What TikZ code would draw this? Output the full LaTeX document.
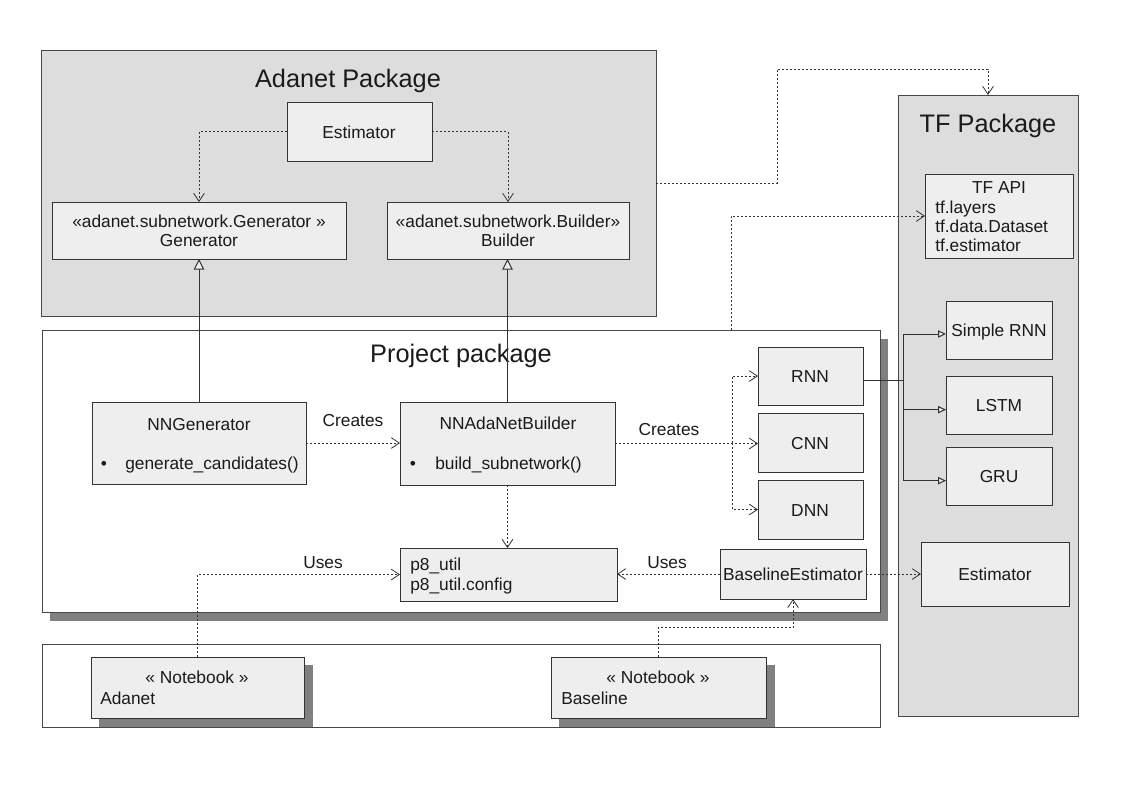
\documentclass[tikz,border=0pt]{standalone}
\usepackage{fontspec}
\setmainfont{Liberation Sans}
\usetikzlibrary{arrows.meta}
\definecolor{pkgfill}{HTML}{DDDDDD}
\definecolor{boxfill}{HTML}{EEEEEE}
\definecolor{shadowc}{HTML}{808080}
\definecolor{linec}{HTML}{333333}
\definecolor{txtc}{HTML}{1A1A1A}
\newcommand\ubox[6][]{%
  \node[#1, minimum width={(#5-#3)*0.75pt}, minimum height={(#6-#4)*0.75pt}] (#2) at ({(#3+#5)/2},{(#4+#6)/2}) {};}
\tikzset{
  pkg/.style={draw=linec!90, fill=pkgfill, line width=0.75pt, inner sep=0pt, outer sep=0pt},
  wpkg/.style={draw=linec!90, fill=white, line width=0.75pt, inner sep=0pt, outer sep=0pt},
  shad/.style={fill=shadowc, draw=none, inner sep=0pt, outer sep=0pt},
  cbox/.style={draw=linec, fill=boxfill, line width=0.75pt, inner sep=0pt, outer sep=0pt},
  txt/.style={inner sep=0pt, anchor=base, text=txtc, font=\fontsize{13}{15}\selectfont},
  ltxt/.style={txt, anchor=base west},
  ttl/.style={inner sep=0pt, anchor=base, text=txtc, font=\fontsize{19}{22}\selectfont},
  dep/.style={draw=linec, line width=0.6pt, dash pattern=on 1.5pt off 1.5pt, -{Straight Barb[length=6pt,width=8pt]}},
  inh/.style={draw=linec, line width=0.75pt, -{Triangle[length=8pt,width=8pt,fill=boxfill]}},
  inhs/.style={draw=linec, line width=0.75pt, -{Triangle[length=6pt,width=5.5pt,fill=boxfill]}},
  plain/.style={draw=linec, line width=0.75pt}
}
\begin{document}
\begin{tikzpicture}[x=0.75pt,y=-0.75pt]
\useasboundingbox[fill=white] (0,0) rectangle (1123,794);
% packages
\ubox[pkg]{adanet}{41}{50}{656}{316}
\ubox[pkg]{tfpkg}{898}{95}{1078}{716}
\ubox[shad]{projsh}{50}{339}{888}{621}
\ubox[wpkg]{proj}{42}{330}{880}{612}
\ubox[wpkg]{nbpkg}{42}{644}{880}{727}
\node[ttl] (tadanet) at (348,87) {Adanet Package};
\node[ttl] (ttf) at (988,132) {TF Package};
\node[ttl] (tproj) at (461,362) {Project package};
% Adanet boxes
\ubox[cbox]{est}{287}{102}{432}{161}
\node[txt] (test) at (359,138) {Estimator};
\ubox[cbox]{gen}{52}{202}{346}{259}
\node[txt] (tgen1) at (199,227) {«adanet.subnetwork.Generator »};
\node[txt] (tgen2) at (199,246) {Generator};
\ubox[cbox]{bld}{387}{202}{629}{259}
\node[txt] (tbld1) at (508,227) {«adanet.subnetwork.Builder»};
\node[txt] (tbld2) at (508,246) {Builder};
% Project boxes
\ubox[cbox]{nngen}{92}{402}{306}{484}
\node[txt] (tnngen) at (199,430) {NNGenerator};
\node[txt] (bnngen) at (104,469) {•};
\node[ltxt] (mnngen) at (125,469) {generate\_candidates()};
\ubox[cbox]{nnb}{400}{402}{615}{485}
\node[txt] (tnnb) at (508,429) {NNAdaNetBuilder};
\node[txt] (bnnb) at (413,469) {•};
\node[ltxt] (mnnb) at (435,469) {build\_subnetwork()};
\ubox[cbox]{p8}{400}{548}{617}{601}
\node[ltxt] (tp81) at (410,570) {p8\_util};
\node[ltxt] (tp82) at (410,590) {p8\_util.config};
\ubox[cbox]{be}{720}{549}{866}{599}
\node[txt] (tbe) at (793,580) {BaselineEstimator};
\ubox[cbox]{rnn}{758}{347}{863}{405}
\node[txt] (trnn) at (810,382) {RNN};
\ubox[cbox]{cnn}{758}{413}{863}{472}
\node[txt] (tcnn) at (810,449) {CNN};
\ubox[cbox]{dnn}{758}{480}{863}{539}
\node[txt] (tdnn) at (810,516) {DNN};
% TF boxes
\ubox[cbox]{tfapi}{925}{174}{1073}{258}
\node[txt] (ttfapi) at (999,193) {TF API};
\node[ltxt] (ttf1) at (935,213) {tf.layers};
\node[ltxt] (ttf2) at (935,232) {tf.data.Dataset};
\node[ltxt] (ttf3) at (935,251) {tf.estimator};
\ubox[cbox]{srnn}{946}{301}{1052}{359}
\node[txt] (tsrnn) at (999,336) {Simple RNN};
\ubox[cbox]{lstm}{946}{376}{1052}{434}
\node[txt] (tlstm) at (999,411) {LSTM};
\ubox[cbox]{gru}{946}{447}{1052}{505}
\node[txt] (tgru) at (999,482) {GRU};
\ubox[cbox]{tfest}{921}{542}{1069}{606}
\node[txt] (ttfest) at (995,580) {Estimator};
% Notebooks
\ubox[shad]{nbash}{99}{665}{313}{727}
\ubox[cbox]{nba}{91}{657}{304}{718}
\node[txt] (tnba1) at (197,683) {« Notebook »};
\node[ltxt] (tnba2) at (100,704) {Adanet};
\ubox[shad]{nbbsh}{559}{665}{775}{727}
\ubox[cbox]{nbb}{551}{657}{766}{718}
\node[txt] (tnbb1) at (658,683) {« Notebook »};
\node[ltxt] (tnbb2) at (561,704) {Baseline};
% connectors
\draw[dep] (est.west) -| (gen.north);
\draw[dep] (est.east) -| (bld.north);
\draw[inh] (nngen.north) -- (gen.south);
\draw[inh] (nnb.north) -- (nnb.north |- bld.south);
\draw[dep] (nngen.east) -- (nngen.east -| nnb.west);
\node[txt] (lcr1) at (353,426) {Creates};
\draw[dep] (nnb.south) -- (nnb.south |- p8.north);
\draw[dep] (nba.north) |- (p8.west);
\node[txt] (lus1) at (323,568) {Uses};
\draw[dep] (be.west) -- (be.west -| p8.east);
\node[txt] (lus2) at (667,568) {Uses};
\draw[dep] (be.east) -- (be.east -| tfest.west);
\coordinate (nbj) at (658.5,627);
\draw[dep] (nbb.north) -- (nbj) -| (be.south);
\coordinate (cb) at (732,443);
\draw[dep] (nnb.east) -- (nnb.east -| cnn.west);
\draw[dep] (cb) |- (rnn.west);
\draw[dep] (cb) |- (dnn.west);
\node[txt] (lcr2) at (669,435) {Creates};
\coordinate (rj) at (903,380);
\draw[plain] ([yshift=-3pt]rnn.east) -- (rj);
\draw[inhs] (rj) |- ([yshift=-3pt]srnn.west);
\draw[inhs] (rj) |- ([yshift=-3.5pt]lstm.west);
\draw[inhs] (rj) |- ([yshift=-3.5pt]gru.west);
\coordinate (t1) at (777,69);
\draw[dep] (adanet.east) -| (t1) -| (tfpkg.north);
\coordinate (p1) at (731,216);
\draw[dep] (p1 |- proj.north) -- (p1) -- (p1 -| tfapi.west);
\end{tikzpicture}
\end{document}
